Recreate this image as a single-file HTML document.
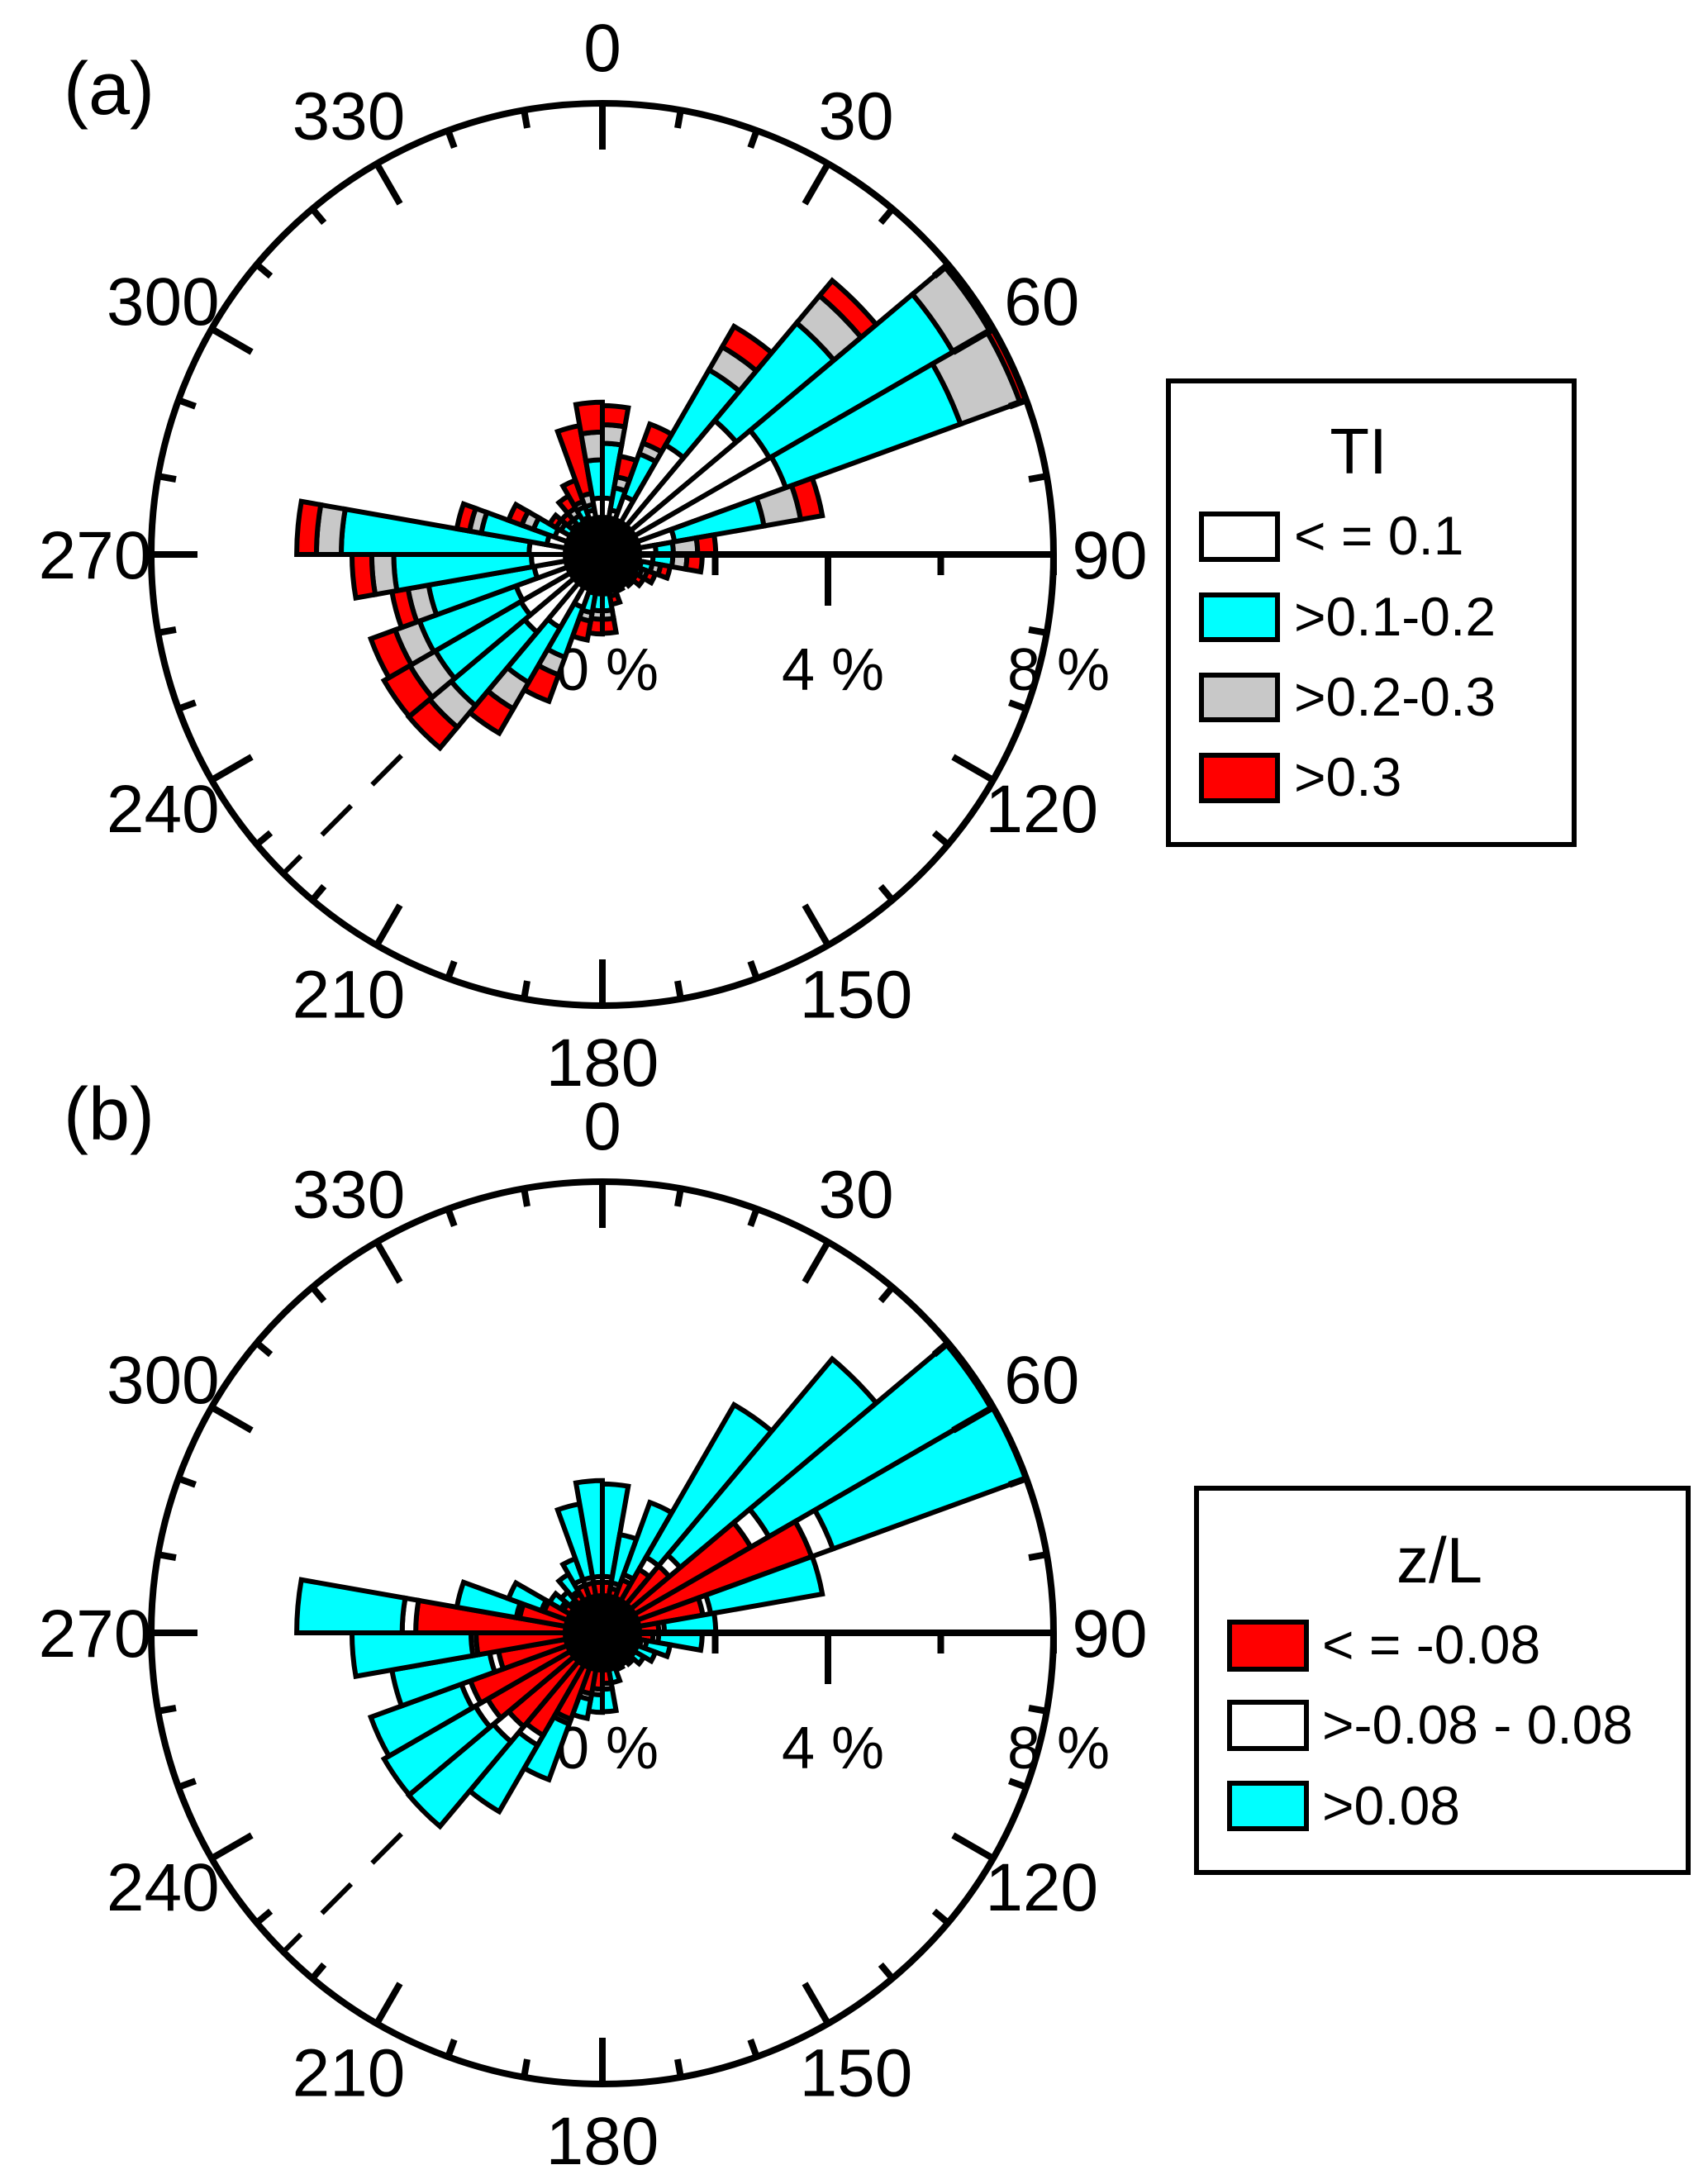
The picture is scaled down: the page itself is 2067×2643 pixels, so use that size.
<!DOCTYPE html>
<html><head><meta charset="utf-8"><style>
html,body{margin:0;padding:0;background:#fff;}
svg{display:block;font-family:"Liberation Sans",Arial,sans-serif;}
</style></head><body>
<svg id="fig" width="2067" height="2643" viewBox="0 0 2067 2643" xmlns="http://www.w3.org/2000/svg">
<rect x="0" y="0" width="2067" height="2643" fill="#fff"/>
<g id="panelA"></g>
<g id="panelB"></g>
<text x="132" y="138" font-size="90" text-anchor="middle">(a)</text>
<text x="132" y="1379" font-size="90" text-anchor="middle">(b)</text>

<g>
<rect x="1414" y="461" width="491" height="561" fill="#fff" stroke="#000" stroke-width="6"/>
<text x="1644" y="573" font-size="78" text-anchor="middle">TI</text>
<g><rect x="1454" y="622" width="92" height="55" fill="#fff" stroke="#000" stroke-width="6"/><text x="1566" y="671" font-size="66">&lt; = 0.1</text></g>
<g><rect x="1454" y="720" width="92" height="54" fill="#00ffff" stroke="#000" stroke-width="6"/><text x="1566" y="769" font-size="66">&gt;0.1-0.2</text></g>
<g><rect x="1454" y="817" width="92" height="54" fill="#c8c8c8" stroke="#000" stroke-width="6"/><text x="1566" y="866" font-size="66">&gt;0.2-0.3</text></g>
<g><rect x="1454" y="914" width="92" height="55" fill="#ff0000" stroke="#000" stroke-width="6"/><text x="1566" y="963" font-size="66">&gt;0.3</text></g>
</g>

<g>
<rect x="1448" y="1801" width="595" height="465" fill="#fff" stroke="#000" stroke-width="6"/>
<text x="1742" y="1915" font-size="78" text-anchor="middle">z/L</text>
<g><rect x="1488" y="1963" width="93" height="57" fill="#ff0000" stroke="#000" stroke-width="6"/><text x="1600" y="2013" font-size="66">&lt; = -0.08</text></g>
<g><rect x="1488" y="2060" width="93" height="56" fill="#fff" stroke="#000" stroke-width="6"/><text x="1600" y="2110" font-size="66">&gt;-0.08 - 0.08</text></g>
<g><rect x="1488" y="2158" width="93" height="55" fill="#00ffff" stroke="#000" stroke-width="6"/><text x="1600" y="2208" font-size="66">&gt;0.08</text></g>
</g>
</svg>
<script>
// ---- data: direction bins (start angle, deg), width 10 ----
const binStarts = [0,10,20,30,40,50,60,70,80,90,100,110,120,130,140,150,160,170,180,190,200,210,220,230,240,250,260,270,280,290,300,310,320,330,340,350];
// Panel (a) TI classes: cumulative outer edge (%) of each stacked class
const tiLe01Cum   = [1.0,0.8,1.1,2.24,3.1,3.42,3.46,1.3,0.95,0.9,0.7,0.6,0.5,0.45,0.4,0.4,0.5,0.7,0.7,0.7,1.0,1.5,1.8,1.67,1.63,1.23,1.26,1.3,1.0,0.9,0.6,0.55,0.6,0.7,0.8,1.0];
const ti01to02Cum = [1.97,1.2,1.9,3.78,5.36,7.18,6.76,2.91,1.26,1.25,0.9,0.75,0.6,0.55,0.5,0.5,0.65,1.0,1.0,1.05,1.94,2.62,3.5,3.42,3.45,3.13,3.7,4.63,2.18,1.3,0.85,0.7,0.8,0.9,0.9,1.68];
const ti02to03Cum = [2.3,1.4,2.1,4.25,5.99,7.93,7.88,3.57,1.69,1.5,1.05,0.85,0.7,0.62,0.55,0.6,0.75,1.15,1.15,1.2,2.27,3.16,4.0,3.94,3.91,3.5,4.09,5.07,2.39,1.52,0.95,0.8,0.95,1.0,1.1,2.17];
const tiGt03Cum   = [2.64,1.77,2.46,4.67,6.34,7.96,8.0,3.96,2.01,1.77,1.22,1.0,0.85,0.72,0.65,0.7,0.9,1.4,1.41,1.54,2.77,3.66,4.48,4.47,4.37,3.79,4.44,5.42,2.62,1.77,1.08,0.95,1.2,1.4,2.32,2.7];
// Panel (b) z/L classes: cumulative outer edge (%)
const zlUnstableCum = [0.9,0.8,1.0,1.3,1.55,3.04,3.95,1.81,1.0,0.9,0.7,0.5,0.45,0.4,0.4,0.4,0.5,0.9,1.0,1.1,1.63,2.1,2.17,2.35,2.49,1.87,2.24,3.31,1.49,1.1,0.8,0.7,0.8,0.9,0.9,0.9];
const zlNeutralCum  = [1.0,0.9,1.1,1.55,1.8,3.41,4.35,1.95,1.1,1.0,0.8,0.55,0.5,0.45,0.45,0.45,0.55,1.0,1.1,1.2,1.72,2.3,2.52,2.6,2.66,2.03,2.33,3.55,1.55,1.15,0.85,0.75,0.85,1.0,1.0,1.0];
const zlStableCum   = [2.64,1.77,2.46,4.67,6.34,7.96,8.0,3.96,2.01,1.77,1.22,1.0,0.85,0.72,0.65,0.7,0.9,1.4,1.41,1.54,2.77,3.66,4.48,4.47,4.37,3.79,4.44,5.42,2.62,1.77,1.08,0.95,1.2,1.4,2.32,2.7];
const radialTicks = [2,4,6,8];
const radialLabels = ["0 %","4 %","8 %"];
const radialLabelVals = [0,4,8];
const angleLabels = [0,30,60,90,120,150,180,210,240,270,300,330];
const binWidth = 10;
const maxPct = 8;

const NS = "http://www.w3.org/2000/svg";
const R = 546;
function rScale(p){ return p / maxPct * R; }
function pt(cx, cy, ang, r){ const a = ang*Math.PI/180; return [cx + r*Math.sin(a), cy - r*Math.cos(a)]; }
function mk(tag, attrs, parent){ const e = document.createElementNS(NS, tag); for (const k in attrs) e.setAttribute(k, attrs[k]); parent.appendChild(e); return e; }

function wedge(cx, cy, a0, a1, r0, r1){
  const p1 = pt(cx,cy,a0,r1), p2 = pt(cx,cy,a1,r1);
  if (r0 <= 0.01) return `M${cx},${cy} L${p1[0]},${p1[1]} A${r1},${r1} 0 0 1 ${p2[0]},${p2[1]} Z`;
  const p0 = pt(cx,cy,a0,r0), p3 = pt(cx,cy,a1,r0);
  return `M${p0[0]},${p0[1]} L${p1[0]},${p1[1]} A${r1},${r1} 0 0 1 ${p2[0]},${p2[1]} L${p3[0]},${p3[1]} A${r0},${r0} 0 0 0 ${p0[0]},${p0[1]} Z`;
}

function drawRose(g, cx, cy, layers, colors, names, prefix){
  radialLabels.forEach((t, i) => {
    const x = cx + rScale(radialLabelVals[i]) - 56;
    const el = mk('text', {x: x, y: cy + 164, 'font-size': 72}, g);
    el.textContent = t;
    
    
  });
  const d1 = pt(cx, cy, 225, R);
  const dl = mk('line', {x1: cx, y1: cy, x2: d1[0], y2: d1[1], stroke: '#000', 'stroke-width': 6, 'stroke-dasharray': '50 36'}, g);
  
  
  binStarts.forEach((a0, i) => {
    let prev = 0;
    layers.forEach((arr, k) => {
      const v = arr[i];
      if (v > prev) {
        const p = mk('path', {d: wedge(cx, cy, a0, a0 + binWidth, rScale(prev), rScale(v)), fill: colors[k], stroke: '#000', 'stroke-width': 6, 'stroke-linejoin': 'miter'}, g);
        
        
        prev = v;
      }
    });
  });
  const c = mk('circle', {cx: cx, cy: cy, r: 48, fill: '#000'}, g);
  
  
  const oc = mk('circle', {cx: cx, cy: cy, r: R, fill: 'none', stroke: '#000', 'stroke-width': 8}, g);
  
  
  for (let a = 0; a < 360; a += 10) {
    const len = (a % 30 === 0) ? 56 : 22;
    const p1 = pt(cx, cy, a, R), p2 = pt(cx, cy, a, R - len);
    const t = mk('line', {x1: p1[0], y1: p1[1], x2: p2[0], y2: p2[1], stroke: '#000', 'stroke-width': 8}, g);
    
    
  }
  const ax = mk('line', {x1: cx, y1: cy, x2: cx + R, y2: cy, stroke: '#000', 'stroke-width': 8}, g);
  
  
  radialTicks.forEach(v => {
    const len = (v === 4) ? 62 : 25;
    const x = cx + rScale(v);
    const t = mk('line', {x1: x, y1: cy, x2: x, y2: cy + len, stroke: '#000', 'stroke-width': 8}, g);
    
    
  });
  angleLabels.forEach(a => {
    const p = pt(cx, cy, a, 614);
    const el = mk('text', {x: p[0], y: p[1] + 29, 'font-size': 82, 'text-anchor': 'middle'}, g);
    el.textContent = String(a);
    
    
  });
}

drawRose(document.getElementById('panelA'), 729, 671,
  [tiLe01Cum, ti01to02Cum, ti02to03Cum, tiGt03Cum],
  ['#ffffff', '#00ffff', '#c8c8c8', '#ff0000'],
  ['ti-le-0.1', 'ti-0.1-0.2', 'ti-0.2-0.3', 'ti-gt-0.3'], 'a');
drawRose(document.getElementById('panelB'), 729, 1976,
  [zlUnstableCum, zlNeutralCum, zlStableCum],
  ['#ff0000', '#ffffff', '#00ffff'],
  ['zl-unstable', 'zl-neutral', 'zl-stable'], 'b');
</script>
</body></html>
